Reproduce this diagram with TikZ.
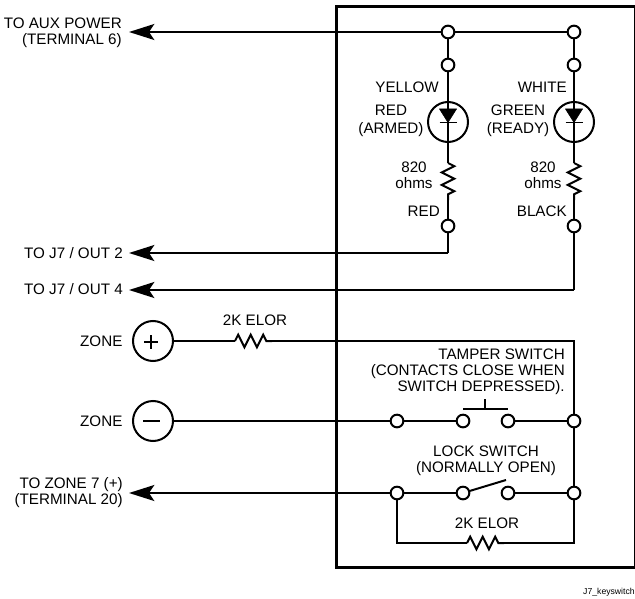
\documentclass[tikz,border=0pt]{standalone}
\usepackage{fontspec}
\setmainfont{Liberation Sans}
\usetikzlibrary{arrows.meta, positioning, decorations.pathmorphing, backgrounds}
\tikzset{
  wire/.style={line width=1.5pt},
  feed/.style={line width=1.5pt, -{Stealth[length=19pt,width=12pt,inset=4pt]}},
  term/.style={circle, draw, line width=1.5pt, fill=white, minimum size=9.5pt, inner sep=0pt},
  disc/.style={circle, draw, line width=1.5pt, fill=white, minimum size=30pt, inner sep=0pt},
  led/.style={circle, draw, line width=1.5pt, minimum size=30pt, inner sep=0pt},
  res/.style={line width=1.5pt, decorate, decoration={zigzag, amplitude=4.7pt, segment length=9.4pt}},
  lbl/.style={font=\fontsize{11.4}{12}\selectfont, align=right, inner sep=0pt},
}
\begin{document}
\begin{tikzpicture}[x=0.75pt, y=-0.75pt]
\useasboundingbox (0,0) rectangle (635,599);
% enclosure
\node (box) [draw, line width=2.25pt, outer sep=0pt, minimum width=224.25pt, minimum height=420pt, inner sep=0pt] at (485.5,287) {};

% LED branches
\node (ta) [term] at (448,32) {};
\node (tb) [term] at (574,32) {};
\node (ua) [term] at (448,65) {};
\node (ub) [term] at (574,65) {};
\node (la) [led] at (448,122) {};
\node (lb) [led] at (574,122) {};
\node (va) [term] at (448,226) {};
\node (vb) [term] at (574,226) {};
\coordinate (ra1) at (448,163);
\coordinate (ra2) at (448,200);
\coordinate (rb1) at (574,163);
\coordinate (rb2) at (574,200);

% left side
\node (pwr) [lbl, anchor=east] at (122,33) {TO AUX POWER\\(TERMINAL 6)};
\node (out2) [lbl, anchor=east] at (123,253) {TO J7 / OUT 2};
\node (out4) [lbl, anchor=east] at (123,289) {TO J7 / OUT 4};
\node (zp) [disc] at (153,341) {};
\node (zm) [disc] at (153,421) {};
\node (zpl) [lbl, left=7pt of zp] {ZONE};
\node (zml) [lbl, left=7pt of zm] {ZONE};
\node (z7) [lbl, anchor=east] at (123,493) {TO ZONE 7 (+)\\(TERMINAL 20)};
\coordinate (pwre) at (129,32);
\coordinate (out2e) at (129,253);
\coordinate (out4e) at (129,290);
\coordinate (z7e) at (129,493);
\coordinate (c2) at (448,253);
\coordinate (c4) at (574,290);
\coordinate (r1) at (235,341);
\coordinate (r2) at (272,341);
\coordinate (rr) at (574,341);

% switches
\node (s1) [term] at (397,421) {};
\node (s2) [term] at (463,421) {};
\node (s3) [term] at (508,421) {};
\node (s4) [term] at (574,421) {};
\node (k1) [term] at (397,493) {};
\node (k2) [term] at (463,493) {};
\node (k3) [term] at (508,493) {};
\node (k4) [term] at (574,493) {};
\coordinate (b1) at (463,409);
\coordinate (b2) at (508,409);
\coordinate (b3) at (485,409);
\coordinate (b4) at (485,399);
\coordinate (lv) at (506,480);
\coordinate (q1) at (397,543);
\coordinate (q2) at (467,543);
\coordinate (q3) at (504,543);
\coordinate (q4) at (574,543);

% wires
\begin{scope}[on background layer]
\draw[feed] (ta) -- (pwre);
\draw[wire] (ta) -- (tb);
\draw[wire] (ta) -- (ua);
\draw[wire] (tb) -- (ub);
\draw[wire] (ua) -- (ra1);
\draw[wire] (ub) -- (rb1);
\draw[res] (ra1) -- (ra2);
\draw[res] (rb1) -- (rb2);
\draw[wire] (ra2) -- (va);
\draw[wire] (rb2) -- (vb);
\draw[wire] (va) -- (c2);
\draw[feed] (c2) -- (out2e);
\draw[wire] (vb) -- (c4);
\draw[feed] (c4) -- (out4e);
\draw[wire] (zp) -- (r1);
\draw[res] (r1) -- (r2);
\draw[wire] (r2) -- (rr) -- (s4);
\draw[wire] (zm) -- (s1);
\draw[wire] (s1) -- (s2);
\draw[wire] (s3) -- (s4);
\draw[wire] (s4) -- (k4);
\draw[feed] (k1) -- (z7e);
\draw[wire] (k1) -- (k2);
\draw[wire] (k3) -- (k4);
\draw[wire] (k2) -- (lv);
\draw[wire] (b1) -- (b2);
\draw[wire] (b3) -- (b4);
\draw[wire] (k1) -- (q1) -- (q2);
\draw[res] (q2) -- (q3);
\draw[wire] (q3) -- (q4) -- (k4);
\end{scope}

% led symbols
\foreach \x in {448,574}{
  \draw[fill=black] (\x-8.5,109) -- (\x+8.5,109) -- (\x,122.5) -- cycle;
  \draw[line width=1.1pt] (\x-8.5,122.5) -- (\x+8.5,122.5);
}

% zone signs
\draw[line width=1.1pt] (144,342) -- (158,342) (151,335) -- (151,349);
\draw[line width=1.1pt] (143,421) -- (160,421);

% labels
\node (t1) [lbl, anchor=east] at (439,87) {YELLOW};
\node (t2) [lbl, anchor=east] at (567,87) {WHITE};
\node (t3) [lbl, align=center] at (391,121) {RED\\[1.2pt](ARMED)};
\node (t4) [lbl, align=center] at (518,121) {GREEN\\[1.2pt](READY)};
\node (t5) [lbl, align=center] at (414,175) {820\\ohms};
\node (t6) [lbl, align=center] at (543,175) {820\\ohms};
\node (t7) [lbl, anchor=east] at (440,211) {RED};
\node (t8) [lbl, anchor=east] at (567,211) {BLACK};
\node (t9) [lbl, align=center] at (255,320) {2K ELOR};
\node (t10) [lbl, anchor=east] at (565,372) {TAMPER SWITCH\\(CONTACTS CLOSE WHEN\\SWITCH DEPRESSED).};
\node (t11) [lbl, align=center] at (486,461) {LOCK SWITCH\\(NORMALLY OPEN)};
\node (t12) [lbl, align=center] at (487,523) {2K ELOR};
\node (t13) [anchor=east, inner sep=0pt, font=\fontsize{6.5}{7}\selectfont] at (635,592) {J7\_keyswitch};
\end{tikzpicture}
\end{document}
